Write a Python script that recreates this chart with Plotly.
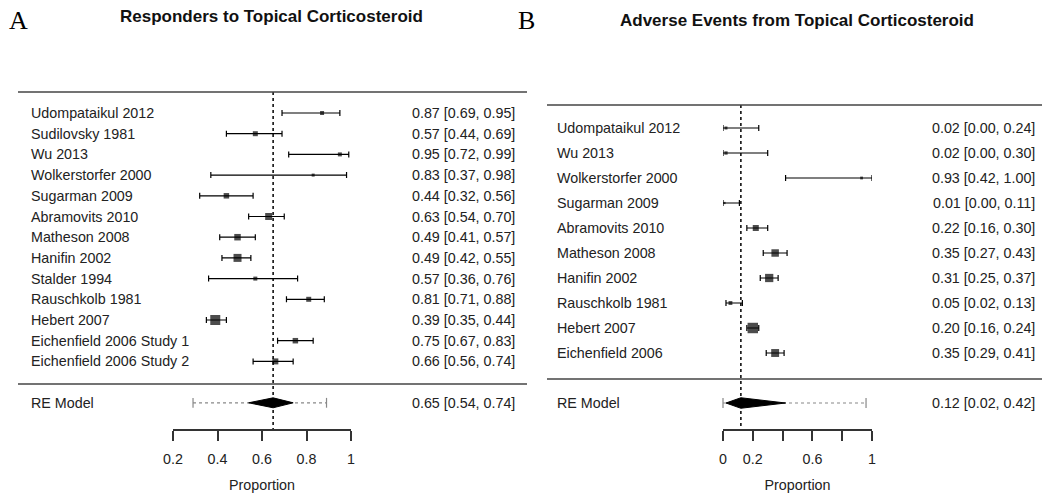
import plotly.graph_objects as go

# ---------------- Data: Panel A (Responders) ----------------
studies_a = ["Udompataikul 2012", "Sudilovsky 1981", "Wu 2013", "Wolkerstorfer 2000",
             "Sugarman 2009", "Abramovits 2010", "Matheson 2008", "Hanifin 2002",
             "Stalder 1994", "Rauschkolb 1981", "Hebert 2007",
             "Eichenfield 2006 Study 1", "Eichenfield 2006 Study 2"]
est_a = [0.87, 0.57, 0.95, 0.83, 0.44, 0.63, 0.49, 0.49, 0.57, 0.81, 0.39, 0.75, 0.66]
lo_a = [0.69, 0.44, 0.72, 0.37, 0.32, 0.54, 0.41, 0.42, 0.36, 0.71, 0.35, 0.67, 0.56]
hi_a = [0.95, 0.69, 0.99, 0.98, 0.56, 0.70, 0.57, 0.55, 0.76, 0.88, 0.44, 0.83, 0.74]
weight_a = [0.4, 0.5, 0.4, 0.3, 0.55, 0.7, 0.65, 0.8, 0.4, 0.5, 1.0, 0.55, 0.6]
re_a = [0.65, 0.54, 0.74]
pi_a = [0.29, 0.89]
ticks_a = [0.2, 0.4, 0.6, 0.8, 1.0]
ticktext_a = ["0.2", "0.4", "0.6", "0.8", "1"]
title_a = "Responders to Topical Corticosteroid"

# ---------------- Data: Panel B (Adverse events) ----------------
studies_b = ["Udompataikul 2012", "Wu 2013", "Wolkerstorfer 2000", "Sugarman 2009",
             "Abramovits 2010", "Matheson 2008", "Hanifin 2002", "Rauschkolb 1981",
             "Hebert 2007", "Eichenfield 2006"]
est_b = [0.02, 0.02, 0.93, 0.01, 0.22, 0.35, 0.31, 0.05, 0.20, 0.35]
lo_b = [0.00, 0.00, 0.42, 0.00, 0.16, 0.27, 0.25, 0.02, 0.16, 0.29]
hi_b = [0.24, 0.30, 1.00, 0.11, 0.30, 0.43, 0.37, 0.13, 0.24, 0.41]
weight_b = [0.27, 0.3, 0.25, 0.2, 0.55, 0.68, 0.75, 0.35, 0.95, 0.72]
re_b = [0.12, 0.02, 0.42]
pi_b = [0.00, 0.96]
ticks_b = [0.0, 0.2, 0.4, 0.6, 0.8, 1.0]
ticktext_b = ["0", "0.2", "", "0.6", "", "1"]
title_b = "Adverse Events from Topical Corticosteroid"

# page has an 8px body margin: size the figure to fit the window and offset positions
OFF = 8
W, H = 1050 - OFF, 495 - OFF
FONT = "Liberation Sans, Arial, sans-serif"
TXT = "#222222"
LINE = "#444444"


def pxx(px):
    return (px - OFF) / W


def pxy(py):
    return 1 - (py - OFF) / H


fig = go.Figure()
annotations = []
shapes = []


def fmt(e, l, h):
    return f"{e:.2f} [{l:.2f}, {h:.2f}]"


def panel(idx, studies, est, lo, hi, weight, re, pi, ticks, ticktext,
          ax_px, row_top_px, row_step, line_x0, line_x1, top_px, sep_px,
          label_x, ci_x, box_scale, dia_h):
    xa = "x" if idx == 1 else f"x{idx}"
    ya = "y" if idx == 1 else f"y{idx}"
    n = len(studies)
    rows = [n - k for k in range(n)]
    re_row = -1
    top_rel = row_top_px - OFF
    v_top = n + top_rel / row_step
    v_bot = n - (H - top_rel) / row_step

    # reference dotted line at summary estimate
    shapes.append(dict(type="line", xref=xa, yref="paper", x0=re[0], x1=re[0],
                       y0=pxy(top_px), y1=pxy(430),
                       line=dict(color="black", width=1.5, dash="dot"), layer="below"))
    # horizontal rules
    for py in (top_px, sep_px):
        shapes.append(dict(type="line", xref="paper", yref="paper",
                           x0=pxx(line_x0), x1=pxx(line_x1), y0=pxy(py), y1=pxy(py),
                           line=dict(color=LINE, width=1.6)))

    # study estimates with CIs
    fig.add_trace(go.Scatter(
        x=est, y=rows, mode="markers", xaxis=xa, yaxis=ya, cliponaxis=False,
        marker=dict(symbol="square", size=[w * box_scale for w in weight], color="black",
                    line=dict(width=0)),
        error_x=dict(type="data", symmetric=False,
                     array=[h - e for h, e in zip(hi, est)],
                     arrayminus=[e - l for e, l in zip(est, lo)],
                     width=3, thickness=1.2, color="black"),
        showlegend=False, hoverinfo="skip"))

    # prediction interval (dotted, grey) with end caps
    fig.add_trace(go.Scatter(
        x=pi, y=[re_row, re_row], mode="lines+markers", xaxis=xa, yaxis=ya, cliponaxis=False,
        line=dict(color="#888888", width=1.2, dash="dot"),
        marker=dict(symbol="line-ns", size=7, line=dict(color="#888888", width=1.2)),
        showlegend=False, hoverinfo="skip"))

    # summary diamond
    fig.add_trace(go.Scatter(
        x=[re[1], re[0], re[2], re[0], re[1]],
        y=[re_row, re_row + dia_h, re_row, re_row - dia_h, re_row],
        mode="lines", fill="toself", fillcolor="black", xaxis=xa, yaxis=ya,
        line=dict(color="black", width=1), showlegend=False, hoverinfo="skip"))

    # text labels
    for r, s, e, l, h in zip(rows, studies, est, lo, hi):
        annotations.append(dict(xref="paper", yref=ya, x=pxx(label_x), y=r, text=s,
                                xanchor="left", yanchor="middle", showarrow=False,
                                font=dict(family=FONT, size=14.3, color=TXT)))
        annotations.append(dict(xref="paper", yref=ya, x=pxx(ci_x), y=r, text=fmt(e, l, h),
                                xanchor="right", yanchor="middle", showarrow=False,
                                font=dict(family=FONT, size=14.3, color=TXT)))
    annotations.append(dict(xref="paper", yref=ya, x=pxx(label_x), y=re_row, text="RE Model",
                            xanchor="left", yanchor="middle", showarrow=False,
                            font=dict(family=FONT, size=14.3, color=TXT)))
    annotations.append(dict(xref="paper", yref=ya, x=pxx(ci_x), y=re_row,
                            text=fmt(re[0], re[1], re[2]),
                            xanchor="right", yanchor="middle", showarrow=False,
                            font=dict(family=FONT, size=14.3, color=TXT)))

    xkey = "xaxis" if idx == 1 else f"xaxis{idx}"
    ykey = "yaxis" if idx == 1 else f"yaxis{idx}"
    fig.layout[xkey] = dict(
        domain=[pxx(ax_px[0]), pxx(ax_px[1])], range=[ticks[0], ticks[-1]],
        anchor="free", position=pxy(430), automargin=False,
        showline=True, linecolor="#333333", linewidth=1.5,
        ticks="outside", ticklen=10, tickwidth=1.5, tickcolor="#333333",
        tickvals=ticks, ticktext=ticktext, ticklabelstandoff=6,
        tickfont=dict(family=FONT, size=14.3, color=TXT),
        showgrid=False, zeroline=False, fixedrange=True,
        title=dict(text="Proportion", standoff=13,
                   font=dict(family=FONT, size=14.3, color=TXT)))
    fig.layout[ykey] = dict(domain=[0, 1], range=[v_bot, v_top], visible=False,
                            anchor=xa, fixedrange=True, automargin=False)


panel(1, studies_a, est_a, lo_a, hi_a, weight_a, re_a, pi_a, ticks_a, ticktext_a,
      ax_px=(173, 351), row_top_px=113, row_step=20.7, line_x0=18, line_x1=527,
      top_px=92, sep_px=384, label_x=29, ci_x=517, box_scale=10, dia_h=0.24)
panel(2, studies_b, est_b, lo_b, hi_b, weight_b, re_b, pi_b, ticks_b, ticktext_b,
      ax_px=(723, 872), row_top_px=128, row_step=25, line_x0=547, line_x1=1048,
      top_px=105, sep_px=379, label_x=555, ci_x=1037, box_scale=11, dia_h=0.21)

# titles and panel letters (kept inside the visible page area)
annotations.append(dict(xref="paper", yref="paper", x=pxx(271), y=pxy(17),
                        text="<b>" + title_a + "</b>", showarrow=False,
                        xanchor="center", yanchor="middle",
                        font=dict(family=FONT, size=17, color="#111111")))
annotations.append(dict(xref="paper", yref="paper", x=pxx(797), y=pxy(20),
                        text="<b>" + title_b + "</b>", showarrow=False,
                        xanchor="center", yanchor="middle",
                        font=dict(family=FONT, size=17, color="#111111")))
annotations.append(dict(xref="paper", yref="paper", x=pxx(7), y=pxy(20), text="A",
                        showarrow=False, xanchor="left", yanchor="middle",
                        font=dict(family="Liberation Serif, Times New Roman, serif",
                                  size=26, color="black")))
annotations.append(dict(xref="paper", yref="paper", x=pxx(516), y=pxy(20), text="B",
                        showarrow=False, xanchor="left", yanchor="middle",
                        font=dict(family="Liberation Serif, Times New Roman, serif",
                                  size=26, color="black")))

fig.update_layout(width=W, height=H, margin=dict(l=0, r=0, t=0, b=0, autoexpand=False),
                  paper_bgcolor="white", plot_bgcolor="white",
                  annotations=annotations, shapes=shapes, showlegend=False)

fig.write_html("out.html")
